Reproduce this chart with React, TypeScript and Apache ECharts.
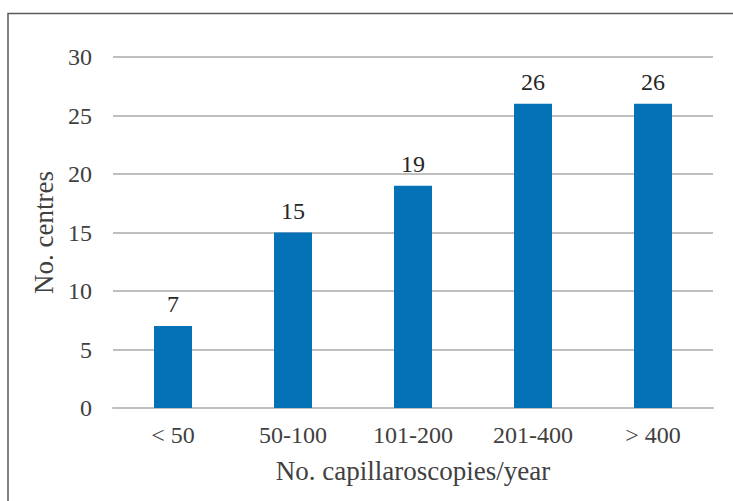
import React, { useEffect, useRef } from "react";
import * as echarts from "echarts";

const categories = ["< 50", "50-100", "101-200", "201-400", "> 400"];
const centres = [7, 15, 19, 26, 26];
const yTicks = [0, 5, 10, 15, 20, 25, 30];

export default function App() {
  const ref = useRef<HTMLDivElement>(null);
  useEffect(() => {
    const chart = echarts.init(ref.current!, null, { renderer: "svg" });
    const font = "'Liberation Serif', 'Times New Roman', serif";
    chart.setOption({
      animation: false,
      backgroundColor: "#ffffff",
      textStyle: { fontFamily: font },
      grid: { left: 113, right: 20, top: 57, bottom: 93, containLabel: false },
      xAxis: {
        type: "category",
        data: categories,
        name: "No. capillaroscopies/year",
        nameLocation: "middle",
        nameGap: 49,
        nameTextStyle: { fontFamily: font, fontSize: 27, color: "#404040" },
        axisLine: { lineStyle: { color: "#BFBFBF", width: 2 } },
        axisTick: { show: false },
        axisLabel: { fontFamily: font, fontSize: 24, color: "#404040", margin: 15 },
      },
      yAxis: {
        type: "value",
        min: yTicks[0],
        max: yTicks[yTicks.length - 1],
        interval: 5,
        name: "No. centres",
        nameLocation: "middle",
        nameGap: 55,
        nameTextStyle: { fontFamily: font, fontSize: 27, color: "#404040" },
        axisLine: { show: false },
        axisTick: { show: false },
        axisLabel: { fontFamily: font, fontSize: 24, color: "#404040", margin: 21 },
        splitLine: { lineStyle: { color: "#BFBFBF", width: 2 } },
      },
      series: [
        {
          type: "bar",
          data: centres,
          barWidth: 38,
          itemStyle: { color: "#0572B8" },
          label: {
            show: true,
            position: "top",
            distance: 10,
            fontFamily: font,
            fontSize: 24,
            color: "#262626",
          },
        },
      ],
      graphic: [
        {
          type: "polyline",
          shape: { points: [[8, 501], [8, 13.5], [733, 13.5]] },
          style: { stroke: "#595959", lineWidth: 1.5, fill: null },
          silent: true,
        },
      ],
    });
    return () => chart.dispose();
  }, []);
  return (
    <div
      ref={ref}
      style={{ position: "fixed", left: 0, top: 0, width: 733, height: 501 }}
    />
  );
}
